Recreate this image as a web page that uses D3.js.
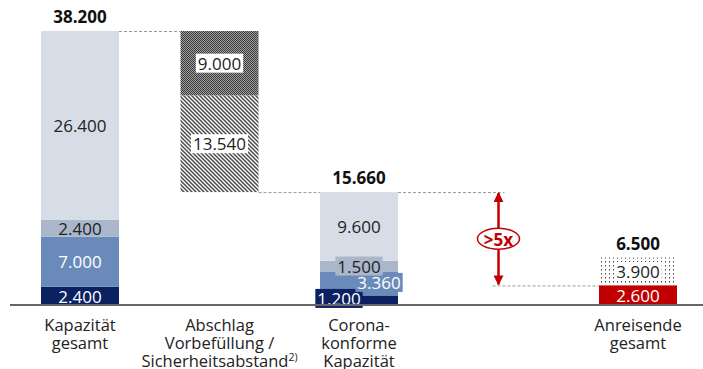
<!DOCTYPE html>
<html><head><meta charset="utf-8">
<script src="https://cdn.jsdelivr.net/npm/d3@7"></script>
<style>body{margin:0;background:#fff}svg{display:block}text{font-family:"Open Sans",sans-serif}</style>
</head><body>
<script>
const categories = ["Kapazität gesamt", "Abschlag Vorbefüllung / Sicherheitsabstand", "Corona-konforme Kapazität", "", "Anreisende gesamt"];
const categoryLines = [["Kapazität","gesamt"],["Abschlag","Vorbefüllung /","Sicherheitsabstand"],["Corona-","konforme","Kapazität"],[],["Anreisende","gesamt"]];
const capacityValues = [2400, 7000, 2400, 26400];
const deductionValues = [13540, 9000];
const coronaValues = [1200, 3360, 1500, 9600];
const arrivalValues = [2600, 3900];
const totals = [38200, 15660, 6500];
const ratioLabel = ">5x";

const W = 703, H = 369;
const svg = d3.select("body").append("svg").attr("width", W).attr("height", H);
const loc = d3.formatLocale({decimal: ",", thousands: ".", grouping: [3], currency: ["", "€"]});
const fmt = loc.format(",d");

const x = d3.scalePoint().domain(categories).range([80, 638]);
const bw = 78;
const y = d3.scaleLinear().domain([0, 38200]).range([304, 31]);

const defs = svg.append("defs");
const chk = defs.append("pattern").attr("id","chk").attr("width",2).attr("height",2).attr("patternUnits","userSpaceOnUse");
chk.append("rect").attr("width",2).attr("height",2).attr("fill","#a0a0a0");
chk.append("rect").attr("width",1).attr("height",1).attr("fill","#3a3a3a");
chk.append("rect").attr("x",1).attr("y",1).attr("width",1).attr("height",1).attr("fill","#3a3a3a");
const hatch = defs.append("pattern").attr("id","hatch").attr("width",4).attr("height",4).attr("patternUnits","userSpaceOnUse");
hatch.append("rect").attr("width",4).attr("height",4).attr("fill","#fff");
hatch.append("path").attr("d","M-1,-1 L5,5 M-1,3 L1,5 M3,-1 L5,1").attr("stroke","#4a4a4a").attr("stroke-width",1.5);
const dots = defs.append("pattern").attr("id","dots").attr("width",4).attr("height",4).attr("patternUnits","userSpaceOnUse");
dots.append("rect").attr("width",4).attr("height",4).attr("fill","#fff");
dots.append("rect").attr("x",1).attr("y",1).attr("width",1).attr("height",1.5).attr("fill","#444");
const mk = defs.append("marker").attr("id","ah").attr("viewBox","0 0 10 10").attr("refX",9).attr("refY",5)
  .attr("markerWidth",4).attr("markerHeight",4).attr("orient","auto-start-reverse");
mk.append("path").attr("d","M0,0 L10,5 L0,10 Z").attr("fill","#c00000");

function stack(vals, base){ let c = base; return vals.map(v => { const s = {y0:c, y1:c+v, v}; c += v; return s; }); }

const g = svg.append("g");
function label(cx, cy, txt, color, bg){
  const t = g.append("text").attr("x",cx).attr("y",cy).attr("text-anchor","middle").attr("dominant-baseline","central")
    .attr("font-size",17).attr("fill",color).text(txt);
  if (bg){
    const b = t.node().getBBox();
    g.insert("rect", () => t.node()).attr("x",b.x-2).attr("y",b.y+2).attr("width",b.width+4).attr("height",b.height-4).attr("fill",bg);
  }
}

// dashed connectors
const dash = svg.append("g").attr("stroke","#999").attr("stroke-width",1).attr("stroke-dasharray","3,2").attr("fill","none");
const c0 = x(categories[0]), c1 = x(categories[1]), c2 = x(categories[2]), c3 = x(categories[3]), c4 = x(categories[4]);
dash.append("line").attr("x1",c0+bw/2).attr("x2",c1-bw/2).attr("y1",y(totals[0])+0.5).attr("y2",y(totals[0])+0.5);
dash.append("line").attr("x1",c1+bw/2).attr("x2",c2-bw/2).attr("y1",y(totals[1])+0.5).attr("y2",y(totals[1])+0.5);
dash.append("line").attr("x1",c2+bw/2).attr("x2",c3+6).attr("y1",y(totals[1])+0.5).attr("y2",y(totals[1])+0.5);
dash.append("line").attr("x1",c3-6).attr("x2",c4-bw/2).attr("y1",y(arrivalValues[0])+0.5).attr("y2",y(arrivalValues[0])+0.5);

// bar 1
const capColors = ["#0b2161","#6a8bba","#aab7cb","#d6dde6"];
const capTxt = ["#fff","#fff","#222","#222"];
stack(capacityValues, 0).forEach((s,i) => {
  g.append("rect").attr("x",c0-bw/2).attr("width",bw).attr("y",y(s.y1)).attr("height",y(s.y0)-y(s.y1)).attr("fill",capColors[i]);
});
stack(capacityValues, 0).forEach((s,i) => label(c0, (y(s.y0)+y(s.y1))/2 + (i===0?1:0), fmt(s.v), capTxt[i]));

// bar 2 (floating deduction)
const dedFill = ["url(#hatch)","url(#chk)"];
const dst = stack(deductionValues, totals[1]);
dst.forEach((s,i) => g.append("rect").attr("x",c1-bw/2).attr("width",bw).attr("y",y(s.y1)).attr("height",y(s.y0)-y(s.y1)).attr("fill",dedFill[i]));
dst.forEach((s,i) => label(c1, (y(s.y0)+y(s.y1))/2, fmt(s.v), "#222", "#fff"));

// bar 3
const cst = stack(coronaValues, 0);
cst.forEach((s,i) => g.append("rect").attr("x",c2-bw/2).attr("width",bw).attr("y",y(s.y1)).attr("height",y(s.y0)-y(s.y1)).attr("fill",capColors[i]));
label(c2-20, y(cst[0].y1)+3, fmt(cst[0].v), "#fff", capColors[0]);
label(c2+20, (y(cst[1].y0)+y(cst[1].y1))/2 - 1, fmt(cst[1].v), "#fff", capColors[1]);
label(c2, (y(cst[2].y0)+y(cst[2].y1))/2, fmt(cst[2].v), "#222", capColors[2]);
label(c2, (y(cst[3].y0)+y(cst[3].y1))/2, fmt(cst[3].v), "#222");

// bar 4
const ast = stack(arrivalValues, 0);
g.append("rect").attr("x",c4-bw/2).attr("width",bw).attr("y",y(ast[0].y1)).attr("height",y(ast[0].y0)-y(ast[0].y1)).attr("fill","#c00000");
g.append("rect").attr("x",c4-bw/2+1).attr("width",bw-2).attr("y",y(ast[1].y1)).attr("height",y(ast[1].y0)-y(ast[1].y1)-1).attr("fill","url(#dots)");
label(c4, (y(ast[0].y0)+y(ast[0].y1))/2+1, fmt(ast[0].v), "#fff");
label(c4, (y(ast[1].y0)+y(ast[1].y1))/2, fmt(ast[1].v), "#222", "#fff");

// totals
[[c0,totals[0]],[c2,totals[1]],[c4,totals[2]]].forEach(([cx,v]) => {
  g.append("text").attr("x",cx).attr("y",y(v)-8).attr("text-anchor","middle").attr("font-size",17).attr("font-weight","bold").attr("fill","#111").text(fmt(v));
});

// arrow
const ar = svg.append("g");
ar.append("line").attr("x1",c3).attr("x2",c3).attr("y1",y(arrivalValues[0])-1).attr("y2",y(totals[1])+1)
  .attr("stroke","#c00000").attr("stroke-width",2.5).attr("marker-end","url(#ah)").attr("marker-start","url(#ah)");
const my = (y(arrivalValues[0]) + y(totals[1]))/2;
ar.append("ellipse").attr("cx",c3).attr("cy",my).attr("rx",21).attr("ry",10.5).attr("fill","#fff").attr("stroke","#c00000").attr("stroke-width",1.5);
ar.append("text").attr("x",c3).attr("y",my+1).attr("text-anchor","middle").attr("dominant-baseline","central")
  .attr("font-size",17).attr("font-weight","bold").attr("fill","#c00000").text(ratioLabel);

// baseline
svg.append("line").attr("x1",10).attr("x2",W).attr("y1",y(0)+1).attr("y2",y(0)+1).attr("stroke","#666").attr("stroke-width",2);

// category labels
categories.forEach((c,i) => {
  const t = svg.append("text").attr("x",x(c)).attr("text-anchor","middle").attr("font-size",16.5).attr("fill","#222");
  categoryLines[i].forEach((ln,j) => {
    t.append("tspan").attr("x",x(c)).attr("y",331 + j*18).text(ln);
    if (i===1 && j===2) t.append("tspan").attr("font-size",10.5).attr("dy",-6).text("2)");
  });
});
</script>
</body></html>
